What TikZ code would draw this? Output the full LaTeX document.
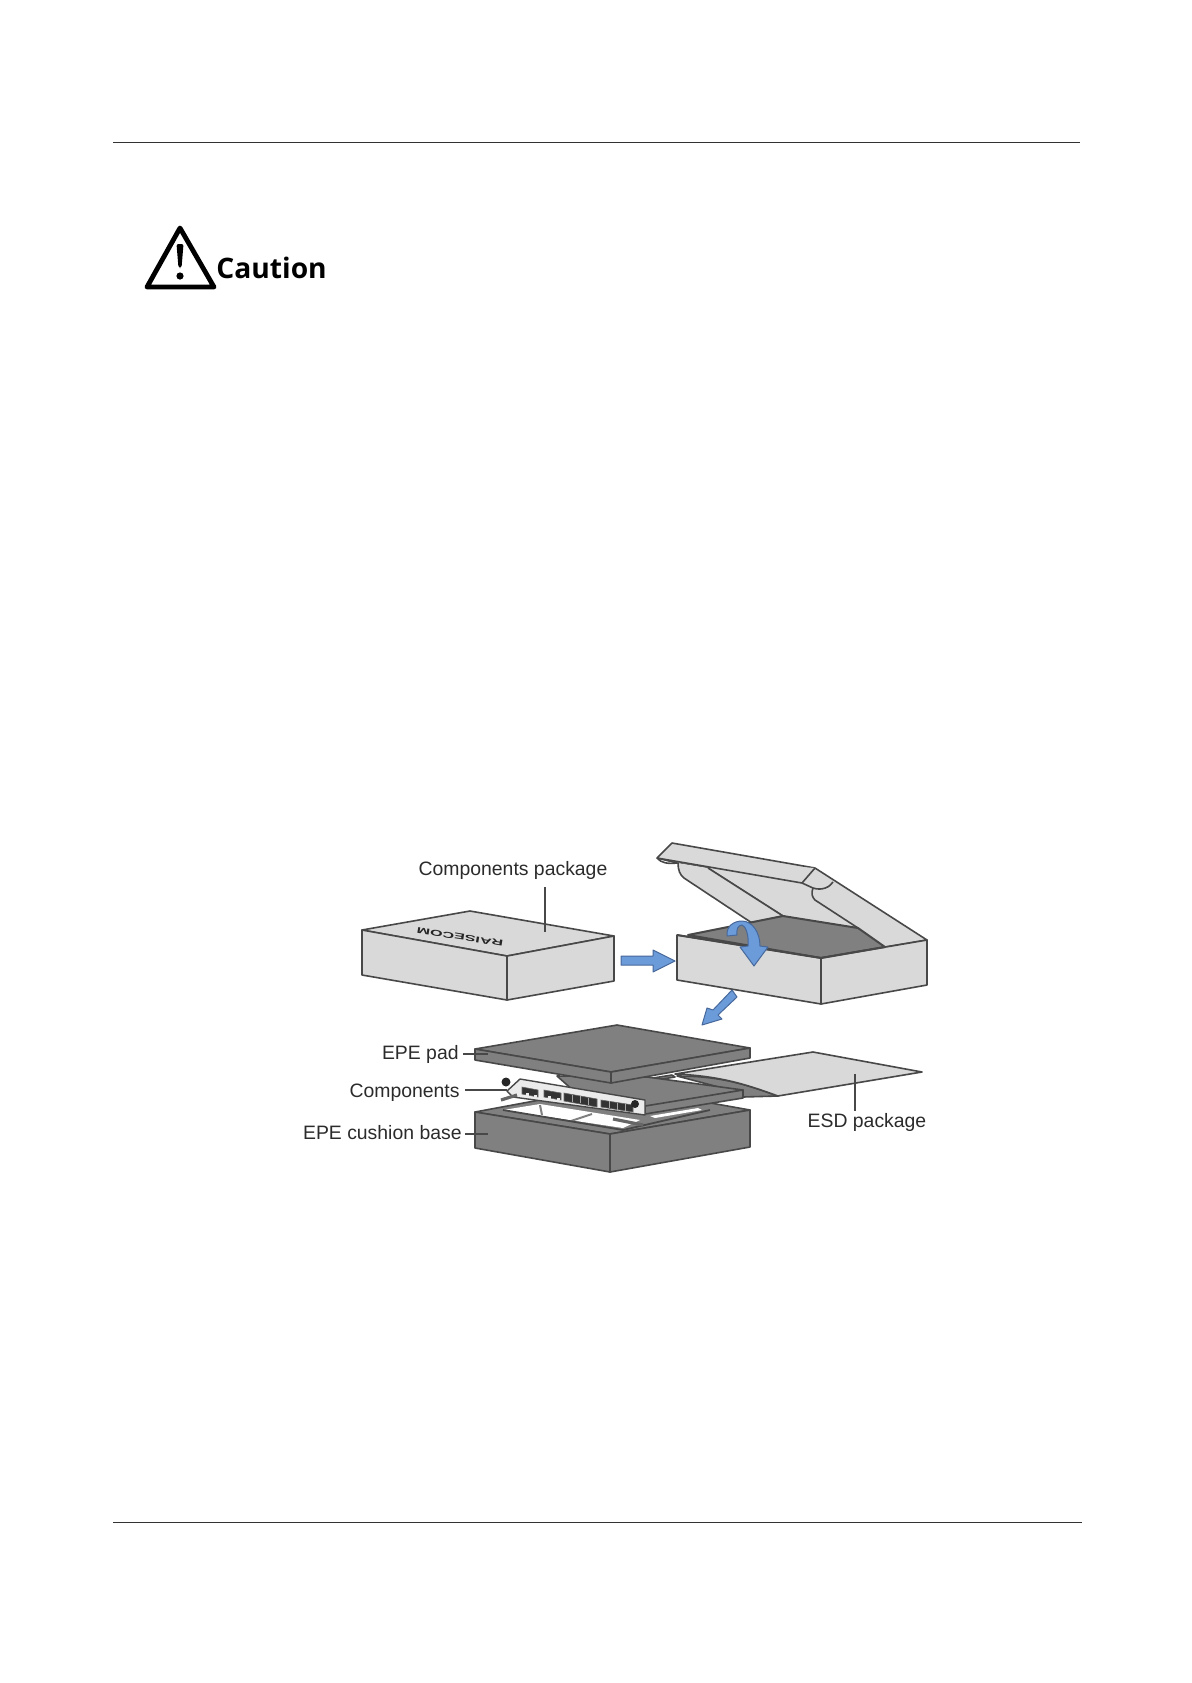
\documentclass[tikz,border=0pt]{standalone}
\usepackage{fontspec}
\setmainfont{Liberation Sans}
\newfontfamily\cautionfont{Open Sans}
\usetikzlibrary{calc}
\definecolor{PackGrey}{HTML}{D9D9D9}
\definecolor{FoamGrey}{HTML}{808080}
\definecolor{EdgeGrey}{HTML}{484848}
\definecolor{LabelGrey}{HTML}{2B2B2B}
\definecolor{ArrowBlue}{HTML}{6C9BDA}
\definecolor{ArrowEdge}{HTML}{46689A}
\tikzset{
  packface/.style={fill=PackGrey,draw=EdgeGrey,line width=0.8pt,line join=round},
  foamface/.style={fill=FoamGrey,draw=EdgeGrey,line width=0.8pt,line join=round},
  bluearrow/.style={fill=ArrowBlue,draw=ArrowEdge,line width=0.5pt,line join=round},
  partlabel/.style={font=\fontsize{9.7}{11}\selectfont,text=LabelGrey,inner sep=1pt},
  leaderline/.style={draw=EdgeGrey,line width=0.6pt},
  portblock/.style={fill=black!80,draw=black!60,line width=0.3pt}
}
\begin{document}
\begin{tikzpicture}[x=0.5pt,y=-0.5pt]
  \useasboundingbox (0,0) rectangle (1191,1683);

  % Page rules
  \draw[line width=0.5pt,black!80] (113,142) -- (1080,142);
  \draw[line width=0.5pt,black!80] (113,1522) -- (1082,1522);

  % Caution sign
  \draw[line width=2.4pt,line join=round] (180,228) -- (147,287) -- (214,287) -- cycle;
  \fill[rounded corners=1pt] (176.5,244) -- (183.5,244) -- (181.5,268) -- (178.5,268) -- cycle;
  \fill (180,276) circle (3.6);
  \node[font=\cautionfont\bfseries\fontsize{14.1}{16}\selectfont,anchor=west,inner sep=0pt] (cautionText) at (216,268) {Caution};

  % Closed package
  \draw[packface] (362,930) -- (470,911) -- (614,936) -- (507,956) -- cycle;
  \draw[packface] (362,930) -- (507,956) -- (507,1000) -- (362,975) -- cycle;
  \draw[packface] (507,956) -- (614,936) -- (614,981) -- (507,1000) -- cycle;
  \node[font=\bfseries\fontsize{6}{7}\selectfont,rotate=171,xscale=1.35,yscale=0.7,inner sep=0pt,text=black!85] (brandText) at (460,937) {RAISECOM};

  % Open package, lid first
  \draw[packface] (672,843) -- (815,868) -- (927,940) -- (885,947) -- (783,916) -- (708,868) -- (677,863) -- (657,858) -- cycle;
  \draw[packface] (678,863) .. controls (678,870) and (680,875) .. (684,878) -- (752,923) -- (783,916) -- (708,868);
  \draw[packface] (657,858) -- (802,883) -- (815,868);
  \draw[EdgeGrey,line width=0.8pt] (657,858) .. controls (661,863) and (668,864) .. (677,863);
  \draw[EdgeGrey,line width=0.8pt] (802,883) -- (813,888) .. controls (822,891) and (830,887) .. (833,882);
  \draw[EdgeGrey,line width=0.8pt] (813,888) .. controls (811,893) and (812,897) .. (815,900) -- (858,928);
  \draw[foamface,line width=1pt] (688,935) -- (783,916) -- (858,928) -- (885,947) -- (821,958) -- cycle;
  \draw[packface] (677,935) -- (821,958) -- (821,1004) -- (677,980) -- cycle;
  \draw[packface] (821,958) -- (927,940) -- (927,985) -- (821,1004) -- cycle;
  \draw[EdgeGrey,line width=1pt] (677,935) -- (821,958) -- (885,947);

  % Blue arrows
  \draw[bluearrow] (621,956) -- (653,956) -- (653,950) -- (675,961) -- (653,972) -- (653,965) -- (621,965) -- cycle;
  \draw[bluearrow] (732,990) -- (737,997) -- (718,1015) -- (722,1019) -- (702,1025) -- (707,1008) -- (713,1010) -- cycle;
  \draw[bluearrow] (727,936) .. controls (726,926) and (734,921) .. (742,921)
    .. controls (752,921) and (760,932) .. (760,946) -- (768,947) -- (754,966) -- (740,947) -- (748,946)
    .. controls (749,936) and (746,926) .. (742,925) .. controls (738,925) and (736,930) .. (737,935) -- cycle;

  % ESD package
  \draw[foamface] (677,1076) .. controls (720,1076) and (745,1084) .. (778,1096) -- (743,1097) -- (730,1090) -- cycle;
  \draw[packface] (675,1074) -- (813,1052) -- (922,1072) -- (778,1096) .. controls (745,1084) and (720,1076) .. (675,1074) -- cycle;
  \draw[foamface] (653,1078) -- (672,1075) -- (675,1077) -- (656,1080) -- cycle;

  % EPE cushion base with its cavity
  \draw[foamface] (475,1112) -- (615,1086) -- (750,1110) -- (610,1134) -- cycle;
  \fill[white] (503,1110) -- (540,1104) -- (640,1120) -- (623,1128) -- cycle;
  \fill[white] (650,1116) -- (698,1108) -- (702,1110) -- (655,1118) -- cycle;
  \draw[FoamGrey,line width=1pt] (540,1105) -- (542,1115) (562,1124) -- (592,1114);
  \draw[EdgeGrey,line width=0.9pt] (503,1110) -- (623,1130) -- (710,1110);
  \draw[foamface] (475,1112) -- (610,1134) -- (610,1172) -- (475,1148) -- cycle;
  \draw[foamface] (610,1134) -- (750,1110) -- (750,1147) -- (610,1172) -- cycle;

  % EPE tray behind the components
  \draw[foamface] (557,1076) -- (647,1077) -- (743,1090) -- (640,1108) -- (575,1092) -- cycle;
  \draw[foamface] (743,1090) -- (743,1098) -- (645,1114) -- (645,1106) -- cycle;

  % Components board
  \draw[fill=black!8,draw=EdgeGrey,line width=0.7pt,line join=round] (520,1079) -- (645,1100) -- (645,1115) -- (513,1097) -- (507,1091) -- cycle;
  \draw[portblock] (522,1087) -- (538,1090) -- (538,1097) -- (522,1094) -- cycle;
  \draw[portblock] (544,1090) -- (561,1093) -- (561,1100) -- (544,1097) -- cycle;
  \draw[portblock] (564,1093) -- (597,1099) -- (597,1107) -- (564,1101) -- cycle;
  \draw[portblock] (601,1100) -- (633,1105) -- (633,1112) -- (601,1107) -- cycle;
  \foreach \portx/\porty in {526/1093,534/1094.5,548/1096,557/1097.5}
    \fill[black!8] (\portx,\porty) rectangle ++(2.5,2.5);
  \foreach \portx/\porty in {572/1094.5,580/1096,588/1097.5,609/1101,617/1102.5,625/1104}
    \draw[black!35,line width=0.3pt] (\portx,\porty) -- ++(0,7);
  \fill[black!85] (506,1082) circle (4.5);
  \fill[black!85] (635,1104) circle (4);
  \draw[line width=1.6pt,black!60] (501,1100) -- (517,1095);
  \draw[line width=1.6pt,black!60] (613,1119) -- (643,1125);

  % EPE pad
  \draw[foamface] (475,1049) -- (617,1025) -- (750,1048) -- (611,1072) -- cycle;
  \draw[foamface] (475,1049) -- (611,1072) -- (611,1083) -- (475,1060) -- cycle;
  \draw[foamface] (611,1072) -- (750,1048) -- (750,1058) -- (611,1083) -- cycle;

  % Labels and their leaders
  \node[partlabel] (packageLabel) at (513,870) {Components package};
  \node[partlabel] (esdLabel) at (867,1122) {ESD package};
  \node[partlabel,anchor=east] (padLabel) at (461,1054) {EPE pad};
  \node[partlabel,anchor=east] (partsLabel) at (462,1093) {Components};
  \node[partlabel,anchor=east] (baseLabel) at (464,1133) {EPE cushion base};
  \coordinate (packageEnd) at (545,932);
  \coordinate (esdEnd) at (855,1074);
  \coordinate (padEnd) at (488,1054);
  \coordinate (partsEnd) at (507,1090);
  \coordinate (baseEnd) at (488,1134);
  \draw[leaderline] (packageLabel.south -| packageEnd) ++(0,6) -- (packageEnd);
  \draw[leaderline] (esdLabel.north -| esdEnd) -- (esdEnd);
  \draw[leaderline] (padLabel.east |- padEnd) ++(2,0) -- (padEnd);
  \draw[leaderline] (partsLabel.east |- partsEnd) ++(3,0) -- (partsEnd);
  \draw[leaderline] (baseLabel.east |- baseEnd) ++(1,0) -- (baseEnd);
\end{tikzpicture}
\end{document}
